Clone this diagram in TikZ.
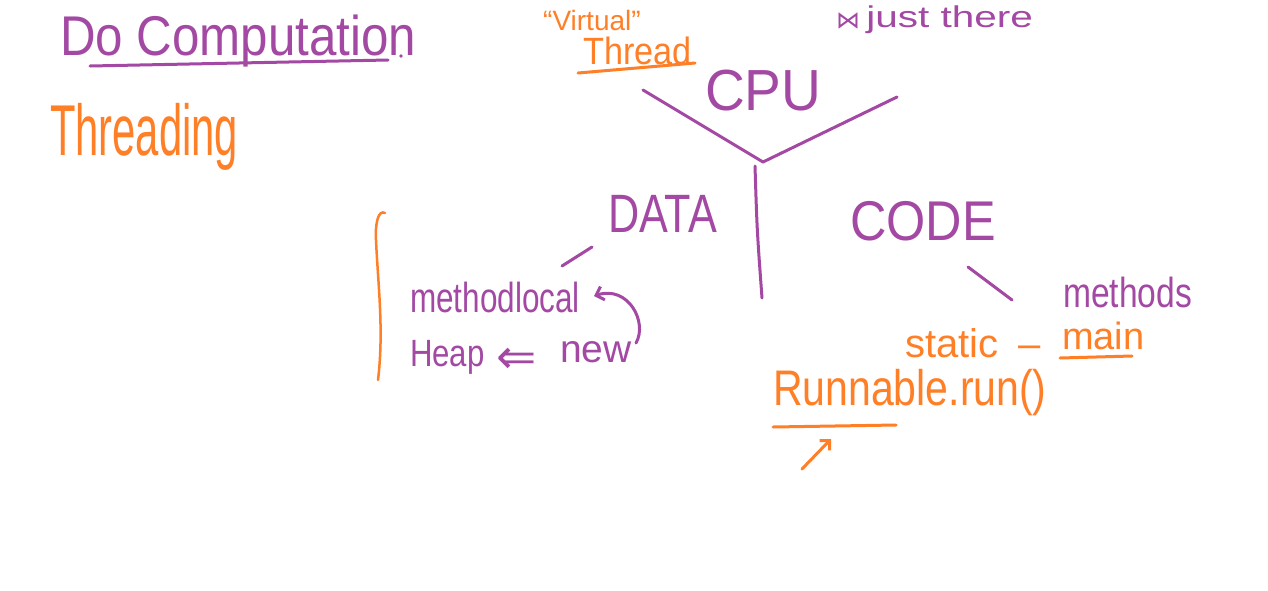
\documentclass[tikz,border=0pt]{standalone}
\usepackage{fontspec}
\setmainfont{Liberation Sans}
\newfontfamily\dejavu{DejaVu Sans}
\usetikzlibrary{arrows.meta}
\definecolor{purp}{HTML}{A349A4}
\definecolor{orng}{HTML}{FF7F27}
\newcommand{\fsz}[1]{\fontsize{#1}{#1}\selectfont}
\tikzset{
  ptxt/.style={text=purp, inner sep=0pt, anchor=base west},
  otxt/.style={text=orng, inner sep=0pt, anchor=base west},
  pline/.style={draw=purp, line width=3pt, line cap=round, line join=round},
  oline/.style={draw=orng, line width=3pt, line cap=round, line join=round},
  barb/.style={-{Straight Barb[length=7pt,width=14pt]}},
}
\begin{document}
\begin{tikzpicture}[x=1pt,y=-1pt]
\useasboundingbox (0,0) rectangle (1268,590);
\fill[white] (0,0) rectangle (1268,590);

% title
\node[ptxt, font=\fsz{56}, xscale=0.88] (title) at (60,55) {Do Computation};
\coordinate (tu1) at (90,66);
\coordinate (tu2) at (388,60);
\draw[pline] (tu1) -- (tu2);
\fill[purp] (401,56) circle (1.8pt);

\node[otxt, font=\fsz{72}, xscale=0.58] (threading) at (50,155) {Threading};

% virtual thread
\node[otxt, font=\fsz{28}, text depth=0pt] (virtual) at (543,30) {“Virtual”};
\node[otxt, font=\fsz{38}, xscale=0.9, text height=27pt] (thread) at (583,64) {Thread};
\coordinate (vu1) at (578,73);
\coordinate (vu2) at (695,63);
\draw[oline] (vu1) -- (vu2);

% CPU
\node[ptxt, font=\fsz{58}, xscale=0.95] (cpu) at (705,110) {CPU};
\coordinate (cl) at (643,90);
\coordinate (cm) at (763,162);
\coordinate (cr) at (897,97);
\draw[pline] (cl) -- (cm) -- (cr);
\coordinate (vt) at (755,166);
\coordinate (vb) at (762,298);
\draw[pline] (vt) .. controls (757,230) .. (vb);

% just there
\node[ptxt, font=\dejavu\fsz{24}] (star) at (836,28) {⋈};
\node[ptxt, font=\fsz{30}, xscale=1.35] (just) at (866,27) {just there};

% DATA
\node[ptxt, font=\fsz{54}, xscale=0.8] (data) at (608,232) {DATA};
\coordinate (dt1) at (562,266);
\coordinate (dt2) at (592,247);
\draw[pline] (dt1) -- (dt2);

% brace
\coordinate (b1) at (385,213);
\coordinate (b2) at (376,240);
\coordinate (b3) at (378,380);
\draw[oline, line width=2.5pt] (b1) .. controls (378,209) and (375,225) .. (b2)
  .. controls (378,285) and (384,330) .. (b3);

\node[ptxt, font=\fsz{42}, xscale=0.75] (ml) at (410,312) {methodlocal};
\node[ptxt, font=\fsz{38}, xscale=0.82] (heap) at (410,366) {Heap};
\node[ptxt, font=\dejavu\fsz{48}, xscale=1.0] (imp) at (496,373) {⇐};
\node[ptxt, font=\fsz{39}] (new) at (560,362) {new};
\coordinate (ca1) at (636,343);
\coordinate (ca2) at (594,296);
\draw[pline, barb] (ca1) .. controls (648,322) and (628,285) .. (ca2);

% CODE
\node[ptxt, font=\fsz{56}, xscale=0.9] (code) at (850,240) {CODE};
\coordinate (cd1) at (968,267);
\coordinate (cd2) at (1012,300);
\draw[pline] (cd1) -- (cd2);

\node[ptxt, font=\fsz{42}, xscale=0.8] (methods) at (1063,307) {methods};
\node[otxt, font=\fsz{40}] (static) at (905,357) {static};
\node[otxt, font=\fsz{40}] (dash) at (1018,357) {–};
\node[otxt, font=\fsz{38}] (main) at (1062,349) {main};
\coordinate (mu1) at (1060,358);
\coordinate (mu2) at (1132,356);
\draw[oline] (mu1) -- (mu2);

\node[otxt, font=\fsz{50}, xscale=0.82] (run) at (773,405) {Runnable.run()};
\coordinate (ru1) at (773,427);
\coordinate (ru2) at (896,425);
\draw[oline] (ru1) -- (ru2);
\coordinate (oa1) at (802,469);
\coordinate (oa2) at (831,439);
\draw[oline, barb] (oa1) -- (oa2);
\end{tikzpicture}
\end{document}
